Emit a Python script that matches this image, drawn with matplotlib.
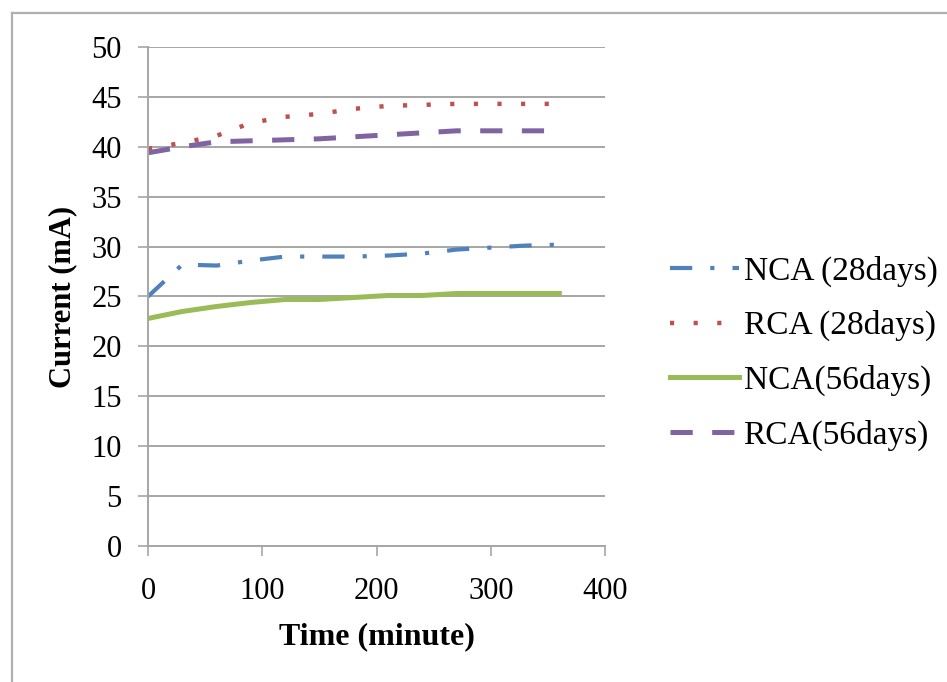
import matplotlib
matplotlib.use("Agg")
import matplotlib.pyplot as plt
from matplotlib.lines import Line2D

# ------------------------------------------------------------
# DATA
# ------------------------------------------------------------
time_min = [0, 30, 60, 90, 120, 150, 180, 210, 240, 270, 300, 330, 360]

nca_28 = [25.0, 28.2, 28.1, 28.6, 29.0, 29.0, 29.0, 29.1, 29.3, 29.7, 29.9, 30.1, 30.2]
rca_28 = [39.8, 40.4, 41.1, 42.4, 43.0, 43.3, 43.8, 44.1, 44.2, 44.3, 44.3, 44.3, 44.3]
nca_56 = [22.8, 23.5, 24.0, 24.4, 24.7, 24.7, 24.9, 25.1, 25.1, 25.3, 25.3, 25.3, 25.3]
rca_56 = [39.4, 40.0, 40.5, 40.6, 40.7, 40.8, 41.0, 41.2, 41.4, 41.6, 41.6, 41.6, 41.6]

labels = ["NCA (28days)", "RCA (28days)", "NCA(56days)", "RCA(56days)"]

x_ticks = [0, 100, 200, 300, 400]
y_ticks = list(range(0, 55, 5))

# ------------------------------------------------------------
# STYLE
# ------------------------------------------------------------
plt.rcParams['font.family'] = ['Liberation Serif', 'DejaVu Serif']
plt.rcParams['lines.scale_dashes'] = False

grid_col = '#a6a6a6'

fig = plt.figure(figsize=(9.47, 6.82), dpi=100)
ax = fig.add_axes([0.1563, 0.1994, 0.4826, 0.7317])

ax.plot(time_min, nca_28, color='#4f81bd', lw=3.0, dashes=(16, 13, 3, 13),
        solid_capstyle='butt', dash_capstyle='butt', label=labels[0])
ax.plot(time_min, rca_28, color='#c0504d', lw=3.2, dashes=(3, 14),
        dash_capstyle='butt', label=labels[1])
ax.plot(time_min, nca_56, color='#9bbb59', lw=3.6, label=labels[2])
ax.plot(time_min, rca_56, color='#8064a2', lw=3.6, dashes=(16, 14),
        dash_capstyle='butt', label=labels[3])

ax.set_xlim(0, 400)
ax.set_ylim(0, 50)
ax.set_xticks(x_ticks)
ax.set_yticks(y_ticks)

ax.grid(True, axis='y', color=grid_col, lw=1.4)
ax.set_axisbelow(True)
for s in ['top', 'right']:
    ax.spines[s].set_visible(False)
for s in ['left', 'bottom']:
    ax.spines[s].set_color(grid_col)
    ax.spines[s].set_linewidth(1.4)

ax.tick_params(axis='both', direction='out', length=7, width=1.2,
               color=grid_col, labelsize=22, labelcolor='black')
ax.tick_params(axis='y', pad=12)
ax.tick_params(axis='x', pad=15)

ax.set_xlabel('Time (minute)', fontsize=23, fontweight='bold', labelpad=12)
ax.set_ylabel('Current (mA)', fontsize=22, fontweight='bold', labelpad=10)

leg = fig.legend(loc='center left', bbox_to_anchor=(0.676, 0.482),
                 fontsize=24, frameon=False, handlelength=2.05,
                 handletextpad=0.15, labelspacing=0.71)

# chart border
fig.add_artist(Line2D([12 / 947, 12 / 947], [0, 1 - 13 / 682],
                      transform=fig.transFigure, color='#b0b0b0', lw=1.6))
fig.add_artist(Line2D([12 / 947, 1], [1 - 13 / 682, 1 - 13 / 682],
                      transform=fig.transFigure, color='#b0b0b0', lw=1.6))

fig.savefig("out.png", dpi=100)
plt.close(fig)
